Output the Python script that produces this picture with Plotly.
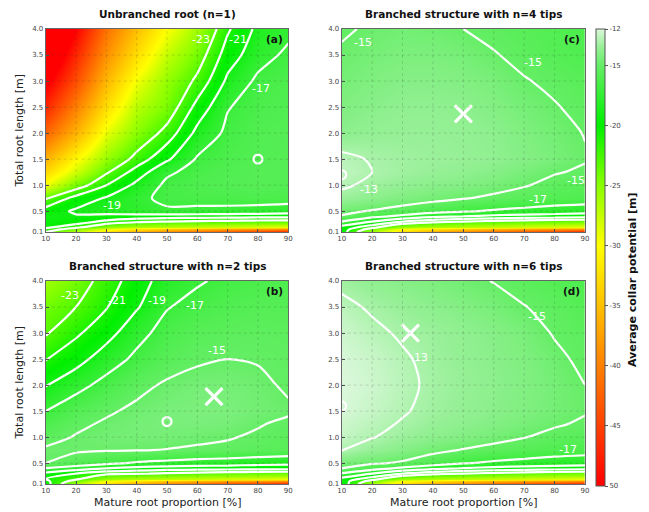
import plotly.graph_objects as go

# ---------------- data ----------------
mature_pct = [10, 20, 30, 40, 50, 60, 70, 80, 90]
root_len = [0.1, 0.15, 0.2, 0.3, 0.4, 0.5, 0.75, 1.0, 1.25, 1.5, 2.0, 2.5, 3.0, 3.5, 4.0]

# rows follow root_len (bottom -> top), columns follow mature_pct
psi_n1 = [
    [-23, -27, -33, -37, -40, -42.5, -44.5, -46, -48],
    [-21.5, -24.5, -29, -32, -34, -35.5, -37, -38, -39],
    [-20.5, -22, -25, -26.5, -27, -27.5, -28, -28.5, -29],
    [-19.5, -20, -21.5, -22.5, -23, -23.3, -23.5, -23.7, -23.8],
    [-19.1, -19.2, -19.5, -19.8, -20.0, -20.1, -20.2, -20.3, -20.4],
    [-20.0, -18.7, -18.3, -17.8, -17.3, -17.4, -17.5, -17.7, -17.9],
    [-23.2, -20.2, -18.8, -17.5, -16.5, -16.4, -16.3, -16.2, -16.3],
    [-29.5, -24.3, -21.0, -18.5, -16.6, -16.1, -15.9, -15.8, -15.9],
    [-33, -28, -23.3, -20.1, -17.3, -16.4, -16.0, -15.8, -15.8],
    [-36, -30.5, -25.5, -22.2, -19.3, -16.8, -16.2, -15.9, -15.8],
    [-42, -36, -29, -25, -22.2, -18.4, -16.6, -16.0, -15.8],
    [-47, -40, -32.5, -27, -24.5, -20.3, -17.1, -16.3, -16.0],
    [-51, -44, -35.5, -29.5, -25.5, -22.5, -18.6, -16.6, -16.2],
    [-55, -47, -38.5, -32.5, -27.5, -24.2, -20, -17.8, -16.6],
    [-58, -50, -41, -35, -30, -26, -21.3, -18.5, -17.5],
]
psi_n2 = [
    [-20, -26, -33, -37, -40, -42.5, -44.5, -46, -48],
    [-20.5, -24, -30, -32, -34, -35.5, -37, -38, -39],
    [-21, -22.5, -25.5, -26.5, -27, -27.5, -28, -28.5, -29],
    [-19.5, -21, -22.5, -22.8, -23.3, -23.7, -24, -24.3, -24.5],
    [-17.1, -18, -19, -19.6, -20, -20.1, -20.2, -20.3, -20.3],
    [-15.0, -15.8, -16.6, -17.2, -17.5, -17.8, -18.0, -18.3, -18.5],
    [-14.8, -14.8, -14.9, -14.95, -15.05, -15.2, -15.3, -15.5, -15.7],
    [-15.5, -14.9, -14.6, -14.5, -14.5, -14.7, -14.9, -15.2, -15.6],
    [-16.2, -15.3, -14.8, -14.5, -14.4, -14.4, -14.5, -14.9, -15.3],
    [-17.0, -15.9, -15.2, -14.7, -14.4, -14.3, -14.3, -14.6, -14.8],
    [-19.1, -17.6, -16.4, -15.4, -14.8, -14.5, -14.5, -14.7, -15.2],
    [-21.1, -19.8, -17.9, -16.6, -15.7, -15.2, -15.0, -15.1, -15.3],
    [-23.2, -21.3, -19.8, -17.6, -16.3, -15.7, -15.5, -15.4, -15.5],
    [-24.2, -23.0, -21.1, -19.2, -17.1, -16.4, -16.0, -15.8, -15.8],
    [-26, -24.3, -22, -20, -18.0, -17.2, -16.6, -16.3, -16.1],
]
psi_n4 = [
    [-20, -26, -33, -37, -40, -42.5, -44.5, -46, -48],
    [-20, -24, -30, -32, -34, -35.5, -37, -38, -39],
    [-19.5, -22, -25.5, -26.5, -27, -27.5, -28, -28.5, -29],
    [-17, -19, -21, -22.3, -23, -23.5, -24, -24.3, -24.5],
    [-15.1, -16.5, -17.5, -18.5, -19, -19.5, -19.8, -20, -20.3],
    [-14.7, -15.1, -15.6, -16.3, -16.8, -17.2, -17.5, -17.8, -18.0],
    [-13.4, -13.8, -14.2, -14.5, -14.9, -15.3, -15.6, -15.9, -16.1],
    [-12.8, -13.3, -13.6, -13.9, -14.1, -14.4, -14.9, -15.4, -15.7],
    [-12.6, -13.0, -13.3, -13.5, -13.7, -14.0, -14.4, -14.9, -15.2],
    [-12.7, -13.1, -13.3, -13.4, -13.5, -13.7, -14.0, -14.4, -14.9],
    [-13.8, -13.6, -13.5, -13.5, -13.6, -13.8, -14.2, -14.6, -15.05],
    [-14.2, -13.9, -13.7, -13.7, -13.8, -14.1, -14.5, -14.9, -15.4],
    [-14.5, -14.2, -14.0, -14.0, -14.1, -14.4, -14.9, -15.3, -15.7],
    [-14.8, -14.5, -14.3, -14.3, -14.5, -14.9, -15.4, -15.8, -16.1],
    [-15.2, -14.8, -14.6, -14.7, -15.0, -15.4, -15.7, -16.0, -16.3],
]
psi_n6 = [
    [-19.5, -26, -33, -37, -40, -42.5, -44.5, -46, -48],
    [-20, -24, -30, -32, -34, -35.5, -37, -38, -39],
    [-19.5, -22, -25.5, -26.5, -27, -27.5, -28, -28.5, -29],
    [-17.2, -19, -21, -22.3, -23, -23.5, -24, -24.3, -24.5],
    [-15.0, -16.2, -17.4, -18.5, -19.1, -19.6, -19.9, -20.1, -20.3],
    [-14.4, -14.8, -15.2, -16.0, -16.9, -17.3, -17.6, -17.9, -18.1],
    [-12.95, -13.5, -14.0, -14.6, -15.1, -15.5, -15.8, -16.1, -16.3],
    [-12.5, -12.95, -13.4, -13.8, -14.1, -14.5, -14.95, -15.4, -15.7],
    [-12.3, -12.7, -13.1, -13.5, -13.8, -14.1, -14.45, -14.85, -15.2],
    [-12.1, -12.45, -12.9, -13.3, -13.6, -13.9, -14.2, -14.55, -14.9],
    [-12.0, -12.3, -12.75, -13.2, -13.5, -13.8, -14.1, -14.5, -15.0],
    [-12.1, -12.4, -12.85, -13.3, -13.6, -13.9, -14.2, -14.7, -15.3],
    [-12.3, -12.75, -13.15, -13.4, -13.7, -14.0, -14.4, -15.1, -15.5],
    [-12.7, -13.15, -13.5, -13.8, -14.1, -14.45, -14.95, -15.4, -15.8],
    [-13.3, -13.7, -14.0, -14.3, -14.65, -15.05, -15.5, -15.9, -16.2],
]

panel_titles = ["Unbranched root (n=1)", "Branched structure with n=4 tips",
                "Branched structure with n=2 tips", "Branched structure with n=6 tips"]
panel_tags = ["(a)", "(c)", "(b)", "(d)"]
panel_fields = [psi_n1, psi_n4, psi_n2, psi_n6]

# optimum markers per panel (order: a, c, b, d)
circle_x = [80, 10, 50, 10]
circle_y = [1.5, 1.2, 1.3, 1.6]
cross_x = [None, 50, 65.5, 32.6]
cross_y = [None, 2.37, 1.78, 3.0]

# contour label texts and where they sit in the reference (order: a, c, b, d)
label_text = [
    ["-23", "-21", "-17", "-19"],
    ["-15", "-15", "-13", "-15", "-17"],
    ["-23", "-21", "-19", "-17", "-15"],
    ["-15", "-13", "-17"],
]
label_x = [
    [61.3, 73.4, 81.0, 31.7],
    [17.1, 73.0, 19.1, 87.1, 74.7],
    [18.0, 33.6, 46.7, 59.1, 66.5],
    [74.1, 35.5, 84.3],
]
label_y = [
    [3.8, 3.8, 2.86, 0.6],
    [3.74, 3.35, 0.91, 1.09, 0.73],
    [3.73, 3.62, 3.63, 3.52, 2.67],
    [3.31, 2.53, 0.77],
]

x_ticks = [10, 20, 30, 40, 50, 60, 70, 80, 90]
y_ticks = [0.1, 0.5, 1.0, 1.5, 2.0, 2.5, 3.0, 3.5, 4.0]
y_ticktext = ["0.1", "0.5", "1.0", "1.5", "2.0", "2.5", "3.0", "3.5", "4.0"]
cbar_ticks = [-12, -15, -20, -25, -30, -35, -40, -45, -50]
cbar_ticktext = ["-12", "-15", "-20", "-25", "-30", "-35", "-40", "-45", "50"]
contour_start, contour_end, contour_step = -23, -13, 2

# ---------------- styling ----------------
W, H = 649, 512
colorscale = [
    [0.0, "#ff0000"],
    [0.263, "#ff8000"],
    [0.526, "#ffff00"],
    [0.658, "#88ff00"],
    [0.789, "#00f000"],
    [0.868, "#3cee3c"],
    [0.921, "#66ee66"],
    [0.960, "#96f096"],
    [1.0, "#dcf8dc"],
]
col_dom = [[45.7 / W, 288.3 / W], [341.7 / W, 585.0 / W]]
row_dom = [[1 - 232 / H, 1 - 29 / H], [1 - 484 / H, 1 - 281 / H]]
pos = [(0, 0), (1, 0), (0, 1), (1, 1)]  # (col, row) for a, c, b, d

fig = go.Figure()
layout = dict(
    width=W, height=H, margin=dict(l=0, r=0, t=0, b=0, autoexpand=False),
    paper_bgcolor="white", plot_bgcolor="white", showlegend=False,
    font=dict(family="DejaVu Sans", color="#222"),
)
annotations = []
shapes = []

for i in range(4):
    c, r = pos[i]
    sfx = "" if i == 0 else str(i + 1)
    xa, ya = "x" + sfx, "y" + sfx
    z = panel_fields[i]
    hm = dict(
        x=mature_pct, y=root_len, z=z, zsmooth="best", colorscale=colorscale,
        zmin=-50, zmax=-12, zauto=False, showscale=(i == 0), hoverinfo="skip",
        xaxis=xa, yaxis=ya,
    )
    if i == 0:
        hm["colorbar"] = dict(
            x=596 / W, xanchor="left", y=1 - 257.5 / H, yanchor="middle",
            len=457, lenmode="pixels", thickness=9, thicknessmode="pixels",
            xpad=0, ypad=0,
            tickvals=cbar_ticks, ticktext=cbar_ticktext,
            tickfont=dict(size=7, color="#444"), ticks="outside", ticklen=3,
            tickcolor="#555", outlinewidth=1, outlinecolor="#555",
        )
    fig.add_trace(go.Heatmap(**hm))
    fig.add_trace(go.Contour(
        x=mature_pct, y=root_len, z=z, xaxis=xa, yaxis=ya, showscale=False,
        hoverinfo="skip", autocontour=False,
        contours=dict(start=contour_start, end=contour_end, size=contour_step,
                      coloring="none", showlabels=False),
        line=dict(color="white", width=2.2, smoothing=0.8),
    ))
    fig.add_trace(go.Scatter(
        x=[circle_x[i]], y=[circle_y[i]], mode="markers", xaxis=xa, yaxis=ya,
        marker=dict(symbol="circle-open", size=9, color="white", line=dict(width=2.2, color="white")),
        hoverinfo="skip",
    ))
    if cross_x[i] is not None:
        fig.add_trace(go.Scatter(
            x=[cross_x[i]], y=[cross_y[i]], mode="markers", xaxis=xa, yaxis=ya,
            marker=dict(symbol="x-thin", size=17, color="white", line=dict(width=3.2, color="white")),
            hoverinfo="skip",
        ))

    common = dict(showline=True, mirror=True, linecolor="#666", linewidth=1,
                  ticks="inside", ticklen=3, tickcolor="#555", automargin=False,
                  tickfont=dict(size=7, color="#444"), showgrid=False, zeroline=False)
    layout["xaxis" + sfx] = dict(domain=col_dom[c], range=[10, 90], anchor=ya,
                                 tickvals=x_ticks, **common)
    layout["yaxis" + sfx] = dict(domain=row_dom[r], range=[0.1, 4.0], anchor=xa,
                                 tickvals=y_ticks, ticktext=y_ticktext, **common)

    # faint dotted grid drawn over the colour field
    for v in x_ticks[1:-1]:
        shapes.append(dict(type="line", xref=xa, yref=ya, x0=v, x1=v, y0=root_len[0], y1=root_len[-1],
                           line=dict(color="rgba(40,40,40,0.16)", width=1, dash="dot"), layer="above"))
    for v in y_ticks[1:-1]:
        shapes.append(dict(type="line", xref=xa, yref=ya, x0=mature_pct[0], x1=mature_pct[-1], y0=v, y1=v,
                           line=dict(color="rgba(40,40,40,0.16)", width=1, dash="dot"), layer="above"))

    # contour labels
    for t, lx, ly in zip(label_text[i], label_x[i], label_y[i]):
        annotations.append(dict(text=t, x=lx, y=ly, xref=xa, yref=ya, showarrow=False,
                                xanchor="center", yanchor="middle",
                                font=dict(size=11, color="white", family="DejaVu Sans")))

    # subplot title
    annotations.append(dict(
        text="<b>%s</b>" % panel_titles[i], xref="paper", yref="paper",
        x=(col_dom[c][0] + col_dom[c][1]) / 2, y=row_dom[r][1] + 15 / H,
        xanchor="center", yanchor="middle", showarrow=False,
        font=dict(size=10.5, family="DejaVu Sans", color="#111"),
    ))
    # panel tag
    annotations.append(dict(
        text="<b>%s</b>" % panel_tags[i], xref="paper", yref="paper",
        x=col_dom[c][1] - 3 / W, y=row_dom[r][1] - 10 / H,
        xanchor="right", yanchor="middle", showarrow=False,
        font=dict(size=10.5, family="DejaVu Sans", color="#111"),
    ))
    # axis titles
    if r == 1:
        annotations.append(dict(
            text="Mature root proportion [%]", xref="paper", yref="paper",
            x=(col_dom[c][0] + col_dom[c][1]) / 2, y=1 - 502 / H,
            xanchor="center", yanchor="middle", showarrow=False,
            font=dict(size=11, family="DejaVu Sans", color="#222"),
        ))
    if c == 0:
        annotations.append(dict(
            text="Total root length [m]", xref="paper", yref="paper",
            x=19 / W, y=(row_dom[r][0] + row_dom[r][1]) / 2, textangle=-90,
            xanchor="center", yanchor="middle", showarrow=False,
            font=dict(size=11, family="DejaVu Sans", color="#222"),
        ))

annotations.append(dict(
    text="<b>Average collar potential [m]</b>", xref="paper", yref="paper",
    x=632 / W, y=1 - 280 / H, textangle=-90, showarrow=False,
    xanchor="center", yanchor="middle",
    font=dict(size=11, family="DejaVu Sans", color="#111"),
))

layout["annotations"] = annotations
layout["shapes"] = shapes
fig.update_layout(**layout)
fig.write_html("out.html", config={"displayModeBar": False},
               post_script="document.body.style.margin='0px';")
